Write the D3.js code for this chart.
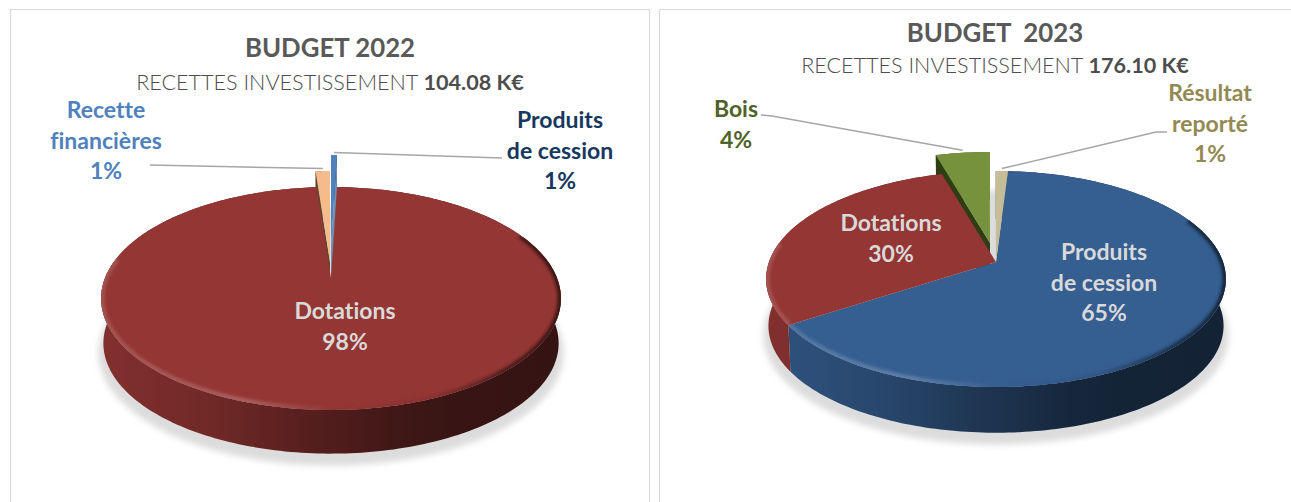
<!DOCTYPE html>
<html><head><meta charset="utf-8">
<script src="https://cdn.jsdelivr.net/npm/d3@7/dist/d3.min.js"></script>
<style>html,body{margin:0;padding:0;background:#fff;overflow:hidden}svg{display:block}text{font-family:Lato,"Open Sans",sans-serif;font-variant-ligatures:none}</style>
</head><body><svg id="c" width="1291" height="502"></svg>
<script>
// ---- data ----
const categories2022 = ["Produits de cession", "Dotations", "Recette financières"];
const values2022 = [0.5, 98.3, 1.2];
const percentLabels2022 = ["1%", "98%", "1%"];
const categories2023 = ["Produits de cession", "Dotations", "Bois", "Résultat reporté"];
const values2023 = [64.7, 29.8, 4.4, 1];
const percentLabels2023 = ["65%", "30%", "4%", "1%"];

// ---- styling / layout ----
const colors2022 = ["#4f81bd", "#943634", "#f5bb8a"];
const colors2023 = ["#355e91", "#943634", "#76923c", "#c4bd97"];
const cutColors2022 = [null, null, "#5e4630"];
const cutColors2023 = [null, null, "#2f3d14", null];
const cutEndColors2022 = ["#6f8fb5", null, null];
const cutEndColors2023 = [null, null, null, null];
const explode2022 = [[0, -32], [0, 0], [-1, -16]];
const explode2023 = [[0, 0], [0, 0], [-6, -19], [0, 0]];
const labelColors2022 = ["#17375e", "#d9d9d9", "#4f81bd"];
const labelColors2023 = ["#d9d9d9", "#d9d9d9", "#4f6228", "#938953"];
const labelLines2022 = [["Produits", "de cession"], ["Dotations"], ["Recette", "financières"]];
const labelLines2023 = [["Produits", "de cession"], ["Dotations"], ["Bois"], ["Résultat", "reporté"]];
const labelPos2022 = [[560, 128], [345, 319], [106, 118]];
const labelPos2023 = [[1104, 260], [891, 231], [736, 117], [1210, 101]];
const leaderOuter2022 = [[[502, 158]], null, [[150, 165]]];
const leaderOuter2023 = [null, null, [[761, 115], [772, 116]], [[1167, 132], [1156, 132]]];

const svg = d3.select("#c");
const defs = svg.append("defs");
defs.append("filter").attr("id", "blurS").attr("filterUnits", "userSpaceOnUse").attr("x", 0).attr("y", 0).attr("width", 1291).attr("height", 502)
  .append("feGaussianBlur").attr("stdDeviation", 3);
defs.append("filter").attr("id", "blurR").attr("filterUnits", "userSpaceOnUse").attr("x", 0).attr("y", 0).attr("width", 1291).attr("height", 502)
  .append("feGaussianBlur").attr("stdDeviation", 1.8);

// panels
const frame = "#d9d9d9";
[[10, 649], [659, 1300]].forEach(([a, b]) => {
  svg.append("path").attr("d", `M${a + .5},502V9.5H${b + .5}V502`).attr("fill", "none").attr("stroke", frame).attr("stroke-width", 1.2);
});

let uid = 0;
function drawPie(cfg) {
  const g = svg.append("g");
  const P = cfg.geom;
  const proj = (theta, off, s, dy) => {
    const u = Math.sin(theta), v = -Math.cos(theta), w = 1 - P.k * v;
    return [P.cx + off[0] + s * P.rx * u / w, P.cy + off[1] + dy + s * P.ry * v / w];
  };
  const line = d3.line();
  const arcs = d3.pie().sort(null).startAngle(cfg.start).endAngle(cfg.start + 2 * Math.PI)(cfg.values);
  const sample = (a, b) => {
    const n = Math.max(2, Math.ceil((b - a) / 0.02));
    return d3.range(n + 1).map(i => a + (b - a) * i / n);
  };
  const left = P.cx - P.rx * 1.02, right = P.cx + P.rx * 1.02;

  // soft shadow below the disc
  const sh = g.append("g").attr("filter", "url(#blurS)").attr("fill", "#dcdcdc");
  sh.append("ellipse").attr("cx", P.cx).attr("cy", P.shadowCy).attr("rx", P.rx - 10).attr("ry", P.shadowRy);
  sh.append("path").attr("d", line(sample(0, 2 * Math.PI).map(t => proj(t, [0, 0], 1.012, P.depth + 9))) + "Z");

  const gradient = (c, stops, x1, x2) => {
    const id = "g" + (uid++);
    const lg = defs.append("linearGradient").attr("id", id).attr("gradientUnits", "userSpaceOnUse")
      .attr("x1", x1).attr("x2", x2).attr("y1", 0).attr("y2", 0);
    stops.forEach(([o, col, op]) => lg.append("stop").attr("offset", o).attr("stop-color", col).attr("stop-opacity", op == null ? 1 : op));
    return `url(#${id})`;
  };

  // outer walls and cut faces
  arcs.forEach((a, i) => {
    const off = cfg.explode[i], c = d3.rgb(cfg.colors[i]);
    const th = sample(a.startAngle, a.endAngle);
    const ribbon = th.map(t => proj(t, off, 1, 0)).concat(th.slice().reverse().map(t => proj(t, off, P.bottomScale, P.depth)));
    const mix = f => d3.interpolateRgb(c, "#000")(f);
    const fill = gradient(c, [[0, mix(.12)], [.25, mix(.25)], [.45, mix(.42)], [.66, mix(.58)], [.76, mix(.62)], [1, mix(.64)]], left, right);
    g.append("path").attr("d", line(ribbon) + "Z").attr("fill", fill);
    [[cfg.cut[i], a.startAngle], [cfg.cutEnd[i], a.endAngle]].forEach(([col, t]) => {
      if (!col) return;
      const quad = [proj(t, off, 0, 0), proj(t, off, 1, 0), proj(t, off, P.bottomScale, P.depth), proj(t, off, 0, P.depth)];
      g.append("path").attr("d", line(quad) + "Z").attr("fill", col);
    });
  });

  // top faces: exploded wedges first so the main disc covers their cut faces
  const order = d3.range(arcs.length).sort((p, q) => (cfg.explode[q][1] !== 0) - (cfg.explode[p][1] !== 0));
  order.forEach(i => {
    const a = arcs[i], off = cfg.explode[i], c = cfg.colors[i];
    const th = sample(a.startAngle, a.endAngle);
    const pts = [proj(0, off, 0, 0)].concat(th.map(t => proj(t, off, 1, 0)));
    const d = line(pts) + "Z";
    g.append("path").attr("d", d).attr("fill", c);
    if (cfg.explode[i][1] === 0) {
      // bevel along the rim
      const clip = "cp" + (uid++);
      defs.append("clipPath").attr("id", clip).append("path").attr("d", d);
      const lo = Math.PI * 0.36, hi = Math.PI * 1.56;
      const s = Math.max(a.startAngle, lo), e = Math.min(a.endAngle, hi);
      if (e > s) {
        const rim = sample(s, e).map(t => proj(t, off, 1, 0));
        const rc = d3.rgb(c);
        const stroke = gradient(c, [[0, d3.interpolateRgb(rc, "#fff")(.14)], [.32, d3.interpolateRgb(rc, "#fff")(.2)], [.5, c], [.72, d3.interpolateRgb(rc, "#000")(.08)], [.9, d3.interpolateRgb(rc, "#000")(.5)], [1, d3.interpolateRgb(rc, "#000")(.6)]], left, right);
        g.append("g").attr("clip-path", `url(#${clip})`).append("path").attr("d", line(rim))
          .attr("fill", "none").attr("stroke", stroke).attr("stroke-width", 7).attr("filter", "url(#blurR)");
      }
    }
  });

  // leader lines
  arcs.forEach((a, i) => {
    if (!cfg.leaders[i]) return;
    const mid = (a.startAngle + a.endAngle) / 2;
    const p = proj(mid, cfg.explode[i], 1, 0);
    const pts = cfg.leaders[i].concat([[p[0], p[1] - 2.5]]);
    g.append("path").attr("d", line(pts)).attr("fill", "none").attr("stroke", "#a6a6a6").attr("stroke-width", 1.5);
  });

  // labels
  arcs.forEach((a, i) => {
    const [x, y] = cfg.labelPos[i];
    const lines = cfg.labelLines[i].concat([cfg.pct[i]]);
    const t = g.append("text").attr("text-anchor", "middle").attr("fill", cfg.labelColors[i])
      .attr("font-size", 23).attr("font-weight", 700);
    lines.forEach((s, j) => t.append("tspan").attr("x", x).attr("y", y + j * 30.5).text(s));
  });

  // titles
  svg.append("text").attr("x", cfg.titleX).attr("y", cfg.titleY).attr("text-anchor", "middle").attr("fill", "#595959")
    .attr("font-size", 25.8).attr("font-weight", 700).style("white-space", "pre").text(cfg.title);
  const st = svg.append("text").attr("x", cfg.subX).attr("y", cfg.subY).attr("text-anchor", "middle").attr("fill", "#4d4d4d").attr("font-size", 21.6);
  st.append("tspan").attr("font-weight", 300).text("RECETTES INVESTISSEMENT ");
  st.append("tspan").attr("font-weight", 700).text(cfg.amount);
}

drawPie({
  values: values2022, start: 0, colors: colors2022, cut: cutColors2022, cutEnd: cutEndColors2022, explode: explode2022,
  pct: percentLabels2022, labelColors: labelColors2022, labelLines: labelLines2022, labelPos: labelPos2022, leaders: leaderOuter2022,
  geom: { cx: 331, cy: 278, rx: 226, ry: 107.7, k: 0.1838, bottomScale: 0.99, depth: 45, shadowCy: 335, shadowRy: 128 },
  title: "BUDGET 2022", titleX: 330, titleY: 57, subX: 330, subY: 90, amount: "104.08 K€"
});
drawPie({
  values: values2023, start: 3.5 * Math.PI / 180, colors: colors2023, cut: cutColors2023, cutEnd: cutEndColors2023, explode: explode2023,
  pct: percentLabels2023, labelColors: labelColors2023, labelLines: labelLines2023, labelPos: labelPos2023, leaders: leaderOuter2023,
  geom: { cx: 996, cy: 262, rx: 227, ry: 105.3, k: 0.1574, bottomScale: 0.99, depth: 47, shadowCy: 316, shadowRy: 126 },
  title: "BUDGET  2023", titleX: 995, titleY: 42, subX: 995, subY: 73, amount: "176.10 K€"
});
</script></body></html>
